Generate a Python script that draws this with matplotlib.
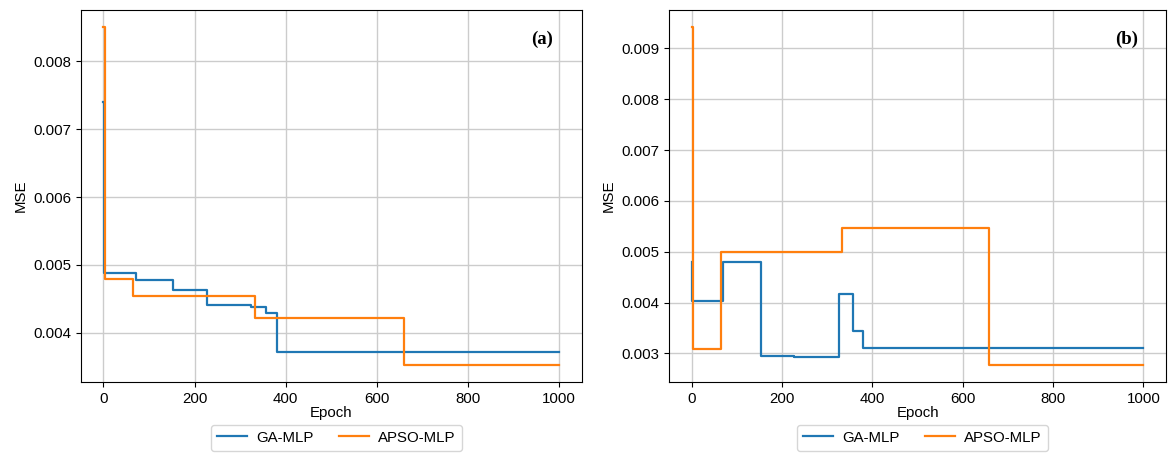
import numpy as np
import matplotlib.pyplot as plt

# step breakpoints (epoch where each level starts) and MSE levels
ga_a_epochs = [0, 1, 71, 153, 227, 324, 357, 381, 1000]
ga_a_mse = [0.0074, 0.00488, 0.00478, 0.004625, 0.004415, 0.004386, 0.004293, 0.003716, 0.003716]
apso_a_epochs = [0, 3, 65, 332, 660, 1000]
apso_a_mse = [0.00851, 0.00479, 0.004547, 0.00422, 0.003525, 0.003525]

ga_b_epochs = [0, 1, 70, 153, 227, 325, 356, 380, 1000]
ga_b_mse = [0.0048, 0.004038, 0.0048, 0.002948, 0.002922, 0.004175, 0.003444, 0.003098, 0.003098]
apso_b_epochs = [0, 3, 65, 332, 659, 1000]
apso_b_mse = [0.009424, 0.003091, 0.005004, 0.005474, 0.002772, 0.002772]

panels = [
    ("(a)", ga_a_epochs, ga_a_mse, apso_a_epochs, apso_a_mse),
    ("(b)", ga_b_epochs, ga_b_mse, apso_b_epochs, apso_b_mse),
]

plt.rcParams['font.family'] = ['Liberation Sans', 'DejaVu Sans']
plt.rcParams['font.size'] = 10.8

fig = plt.figure(figsize=(11.68, 4.53), dpi=100)
boxes = [[0.0691, 0.157, 0.4292, 0.821], [0.573, 0.157, 0.4253, 0.821]]

for box, (tag, ga_x, ga_y, ap_x, ap_y) in zip(boxes, panels):
    ax = fig.add_axes(box)
    ax.step(ga_x, ga_y, where='post', color='#1f77b4', lw=1.6, label='GA-MLP')
    ax.step(ap_x, ap_y, where='post', color='#ff7f0e', lw=1.6, label='APSO-MLP')
    ax.grid(True, color='#cccccc', lw=1)
    ax.set_axisbelow(True)
    ax.set_xlabel('Epoch', labelpad=0)
    ax.set_ylabel('MSE')
    ax.set_xticks([0, 200, 400, 600, 800, 1000])
    ax.text(0.92, 0.92, tag, transform=ax.transAxes, ha='center', va='center',
            family='Liberation Serif', fontweight='bold', fontsize=13.5)
    ax.legend(loc='upper center', bbox_to_anchor=(0.51, -0.095), ncol=2,
              frameon=True, fancybox=True, handletextpad=0.6, columnspacing=1.7)

fig.savefig('out.png', dpi=100)
